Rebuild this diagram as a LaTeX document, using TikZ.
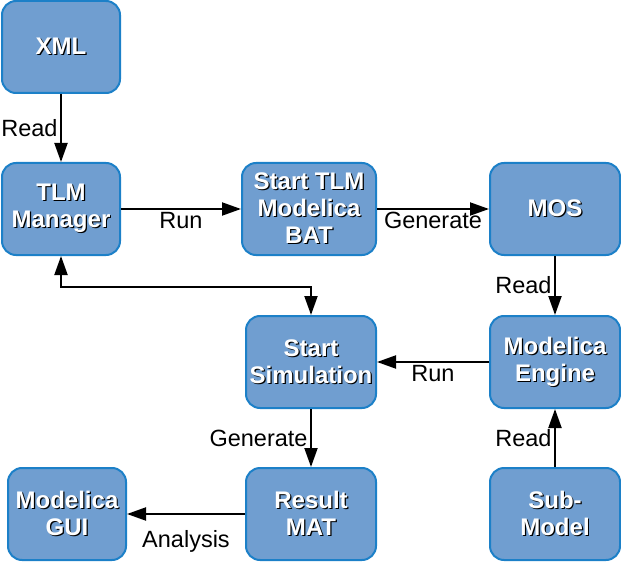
\documentclass[tikz,border=0pt]{standalone}
\usepackage{fontspec}
\setmainfont{Liberation Sans}
\usetikzlibrary{arrows.meta}
\definecolor{boxfill}{RGB}{112,158,208}
\definecolor{boxline}{RGB}{28,128,200}
\newcommand\shtxt[1]{\rlap{\kern1.2pt\raisebox{-1.2pt}{\textcolor{black}{#1}}}#1}
\begin{document}
\begin{tikzpicture}[x=1pt,y=-1pt,
  blk/.style={draw=boxline, line width=2pt, fill=boxfill, rounded corners=14pt,
    minimum height=92pt, text=white, font=\fontsize{24}{27}\selectfont\bfseries,
    align=center, inner sep=0pt},
  conn/.style={line width=2pt, -{Triangle[length=19pt,width=13pt]}},
  conn2/.style={line width=2pt, {Triangle[length=19pt,width=13pt]}-{Triangle[length=19pt,width=13pt]}},
  lbl/.style={font=\fontsize{23.5}{26}\selectfont, text=black, inner sep=2.5pt}]
\useasboundingbox (0,0) rectangle (621,564);
\node[blk, minimum width=118pt] (xml) at (61,47) {\shtxt{XML}};
\node[blk, minimum width=118pt] (tlm) at (61,209) {\shtxt{TLM}\\\shtxt{Manager}};
\node[blk, minimum width=134pt] (bat) at (309,209) {\shtxt{Start TLM}\\\shtxt{Modelica}\\\shtxt{BAT}};
\node[blk, minimum width=130pt] (mos) at (555,209) {\shtxt{MOS}};
\node[blk, minimum width=130pt] (sim) at (311,362) {\shtxt{Start}\\\shtxt{Simulation}};
\node[blk, minimum width=130pt] (eng) at (555,362) {\shtxt{Modelica}\\\shtxt{Engine}};
\node[blk, minimum width=118pt] (gui) at (67,514) {\shtxt{Modelica}\\\shtxt{GUI}};
\node[blk, minimum width=130pt] (mat) at (311,514) {\shtxt{Result}\\\shtxt{MAT}};
\node[blk, minimum width=130pt] (sub) at (555,514) {\shtxt{Sub-}\\\shtxt{Model}};
\draw[conn] (xml) -- node[lbl,left] (l1) {Read} (tlm);
\draw[conn] (tlm) -- node[lbl,below] (l2) {Run} (bat);
\draw[conn] (bat) -- node[lbl,below] (l3) {Generate} (mos);
\draw[conn] (mos) -- node[lbl,left] (l4) {Read} (eng);
\draw[conn] (eng) -- node[lbl,below] (l5) {Run} (sim);
\draw[conn] (sub) -- node[lbl,left] (l6) {Read} (eng);
\draw[conn] (sim) -- node[lbl,left] (l7) {Generate} (mat);
\draw[conn] (mat) -- node[lbl,below=13pt] (l8) {Analysis} (gui);
\draw[conn2] (tlm.south) -- ++(0,31) coordinate (k) -| (sim.north);
\end{tikzpicture}
\end{document}
